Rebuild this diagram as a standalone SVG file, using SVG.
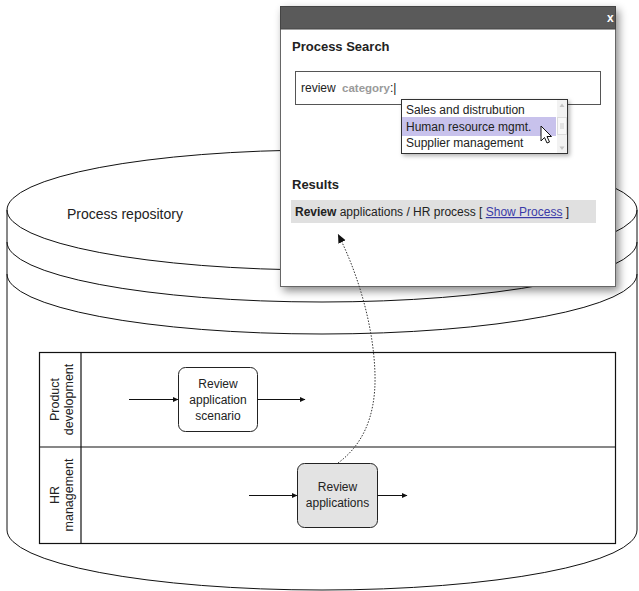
<svg xmlns="http://www.w3.org/2000/svg" width="639" height="591" viewBox="0 0 639 591">
<style>
text{font-family:"Liberation Sans",Arial,sans-serif;fill:#222}
.cyl{fill:none;stroke:#111;stroke-width:1}
.lane{fill:none;stroke:#111;stroke-width:1.2}
.task{stroke:#222;stroke-width:1}
.flow{fill:none;stroke:#111;stroke-width:1}
.t12{font-size:12px}
.c{text-anchor:middle}
.b{font-weight:bold}
</style>
<defs>
<marker id="ah" markerWidth="6" markerHeight="6" refX="5" refY="3" orient="auto" markerUnits="userSpaceOnUse">
<path d="M0,0.5 L5.5,3 L0,5.5 Z" fill="#111"/>
</marker>
<marker id="ahd" markerWidth="10" markerHeight="10" refX="9" refY="4" orient="auto" markerUnits="userSpaceOnUse">
<path d="M0,0 L9,4 L0,8 Z" fill="#111"/>
</marker>
<filter id="sh" x="-10%" y="-10%" width="125%" height="125%">
<feDropShadow dx="3" dy="4" stdDeviation="4" flood-color="#000" flood-opacity="0.45"/>
</filter>
<filter id="sh2" x="-10%" y="-10%" width="125%" height="130%">
<feDropShadow dx="2" dy="2" stdDeviation="2" flood-color="#000" flood-opacity="0.3"/>
</filter>
</defs>

<g id="repository">
<path class="cyl" d="M7,210 L7,530 A315,60 0 0 0 637,530 L637,210"/>
<ellipse class="cyl" cx="322" cy="210" rx="315" ry="60"/>
<path class="cyl" d="M7,242 A315,60 0 0 0 637,242"/>
<path class="cyl" d="M7,274 A315,60 0 0 0 637,274"/>
<text x="67" y="219" style="font-size:14px">Process repository</text>
</g>

<g id="pool">
<rect class="lane" x="39.5" y="352.5" width="576" height="191" fill="#fff"/>
<line class="lane" x1="81" y1="352.5" x2="81" y2="543.5"/>
<line class="lane" x1="39.5" y1="447" x2="615.5" y2="447"/>
</g>
<g id="lane-product">
<text class="t12 c" transform="translate(59,399.5) rotate(-90)" style="font-size:12.5px">Product</text>
<text class="t12 c" transform="translate(73,399.5) rotate(-90)" style="font-size:12.5px">development</text>
</g>
<g id="lane-hr">
<text class="t12 c" transform="translate(59,495) rotate(-90)" style="font-size:12.5px">HR</text>
<text class="t12 c" transform="translate(73,495) rotate(-90)" style="font-size:12.5px">management</text>
</g>

<g id="task-scenario">
<rect class="task" x="178.5" y="367.5" width="79" height="64" rx="7" fill="#fff"/>
<text class="t12 c" x="218" y="388">Review</text>
<text class="t12 c" x="218" y="404">application</text>
<text class="t12 c" x="218" y="420">scenario</text>
</g>
<g id="task-applications">
<rect class="task" x="297.5" y="463.5" width="80" height="64" rx="7" fill="#e3e3e3"/>
<text class="t12 c" x="337.5" y="491">Review</text>
<text class="t12 c" x="337.5" y="507">applications</text>
</g>

<g id="connectors">
<line class="flow" x1="129" y1="399.5" x2="178" y2="399.5" marker-end="url(#ah)"/>
<line class="flow" x1="257.5" y1="399.5" x2="305" y2="399.5" marker-end="url(#ah)"/>
<line class="flow" x1="249" y1="495.5" x2="297" y2="495.5" marker-end="url(#ah)"/>
<line class="flow" x1="377.5" y1="495.5" x2="407" y2="495.5" marker-end="url(#ah)"/>
</g>

<g id="dialog">
<rect x="280.5" y="6.5" width="335" height="280" fill="#fff" stroke="#666" filter="url(#sh)"/>
<rect x="280.5" y="6.5" width="335" height="22.5" fill="#5a5a5a" stroke="#444"/>
<text x="607" y="22" class="b" style="font-size:12px;fill:#fff">x</text>
<text x="292" y="51" class="b" style="font-size:13px">Process Search</text>
<rect x="295.5" y="71.5" width="305" height="33" fill="#fff" stroke="#555"/>
<text x="301" y="92" class="t12">review <tspan dx="3" style="fill:#9a9a9a;font-weight:bold;font-size:11.5px">category</tspan><tspan>:|</tspan></text>
<text x="292" y="189" class="b" style="font-size:13px">Results</text>
<rect x="291" y="200" width="305" height="23" fill="#e0e0e0"/>
<text x="295" y="216" class="t12"><tspan class="b">Review</tspan> applications / HR process [ <tspan style="fill:#3a3aa8;text-decoration:underline">Show Process</tspan> ]</text>
</g>

<g id="dropdown">
<rect x="401.5" y="99.5" width="166" height="54" fill="#fff" stroke="#333" filter="url(#sh2)"/>
<rect x="402" y="117" width="154" height="19" fill="#c8c2ec"/>
<text x="406" y="114" class="t12">Sales and distrubution</text>
<text x="406" y="131" class="t12">Human resource mgmt.</text>
<text x="406" y="147" class="t12">Supplier management</text>
<rect x="557" y="100" width="10" height="53" fill="#f2f2f2"/>
<path d="M562,103.5 L559.5,107 L564.5,107 Z" fill="#c4c4c4"/>
<path d="M562,150 L559.5,146.5 L564.5,146.5 Z" fill="#c4c4c4"/>
<rect x="557.5" y="117.5" width="9" height="17" fill="#f8f8f8" stroke="#dcdcdc"/>
<path d="M560,124 H564 M560,126 H564 M560,128 H564" stroke="#c4c4c4" stroke-width="0.8"/>
<path d="M541,126 L541,141 L544.5,137.5 L547,143 L549.5,142 L547,136.5 L551.5,136.5 Z" fill="#fff" stroke="#111" stroke-width="1" stroke-linejoin="round"/>
</g>

<g id="link">
<path d="M338,463 C360,447 376,420 375,375 C374,330 360,278 338,234" fill="none" stroke="#333" stroke-width="1" stroke-dasharray="1.5,1.5" marker-end="url(#ahd)"/>
</g>
</svg>
